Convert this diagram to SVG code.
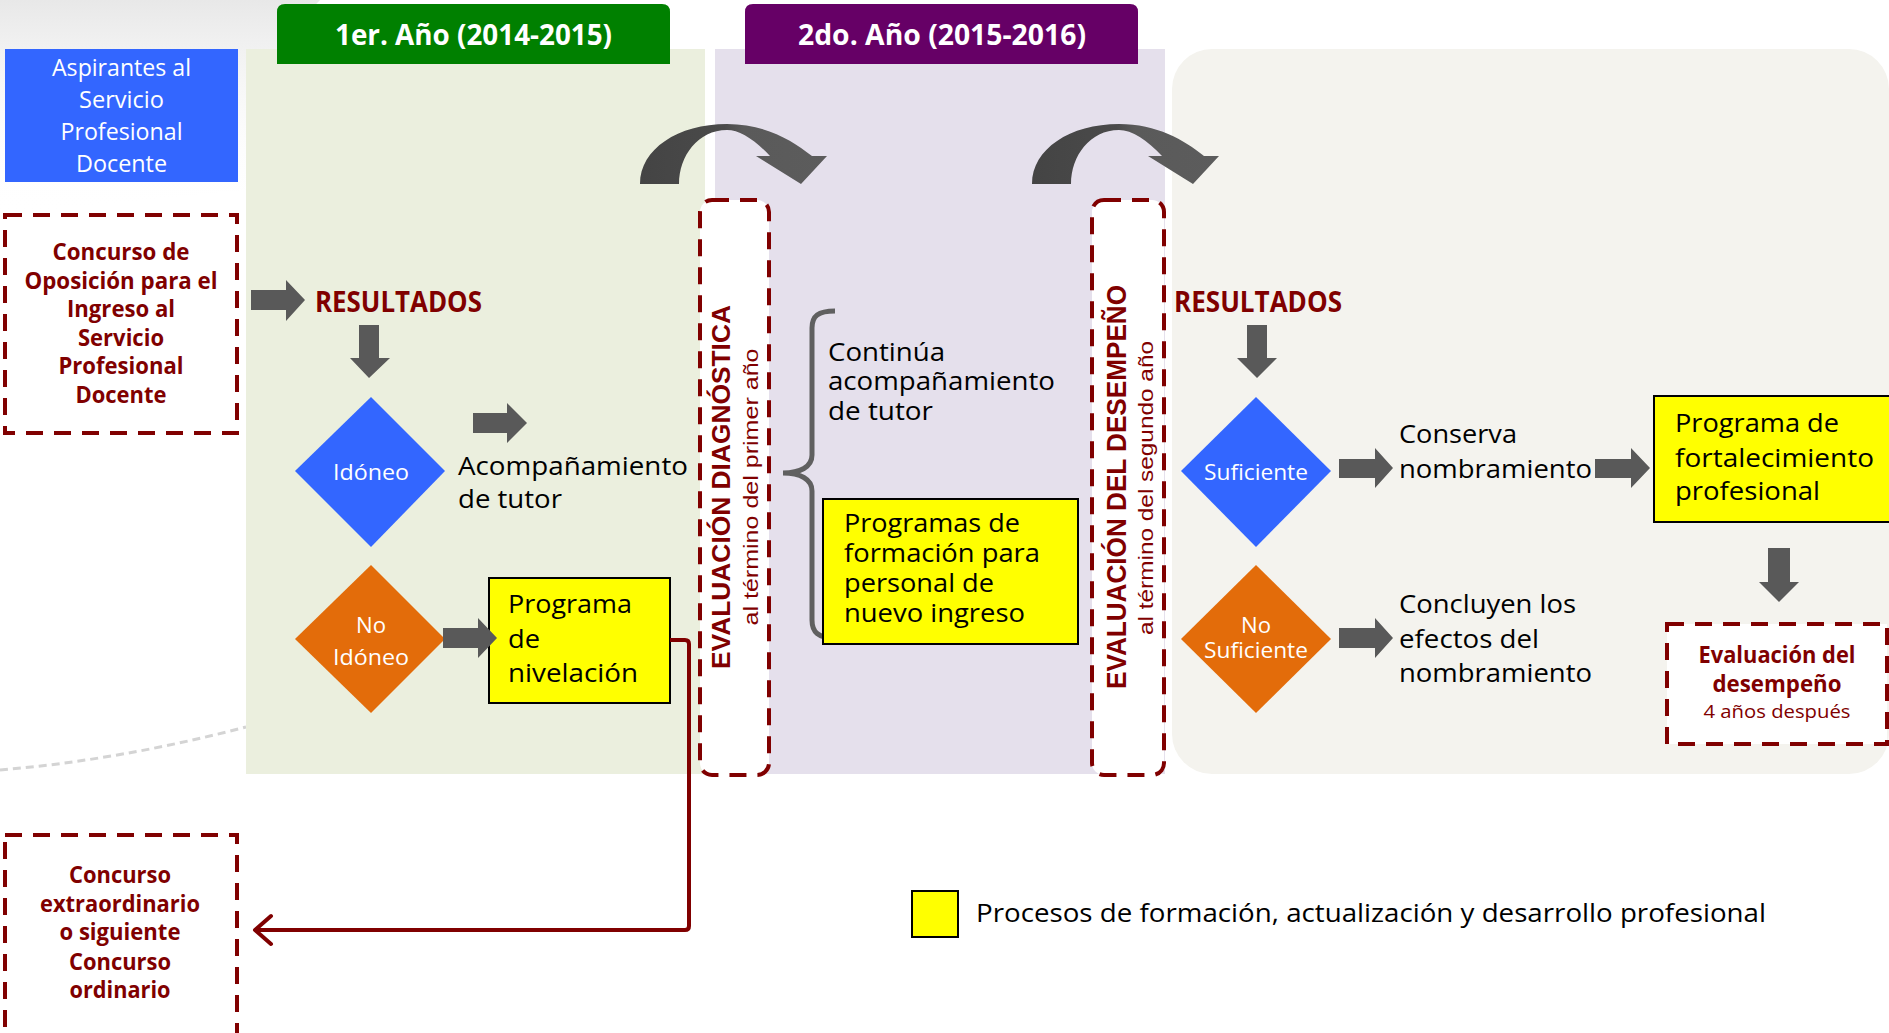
<svg xmlns="http://www.w3.org/2000/svg" width="1889" height="1033" viewBox="0 0 1889 1033">
<defs>
<style>
text{font-family:"Open Sans","Liberation Sans",sans-serif}
.t{font-size:26px;fill:#000}
.w{fill:#fff}
.dr{fill:#800000;font-weight:bold}
.hd{font-size:28px;font-weight:bold;fill:#fff}
.vt{font-family:"Liberation Sans","DejaVu Sans",sans-serif;fill:#800000}
.dash{fill:#fff;stroke:#800000;stroke-width:4;stroke-dasharray:17 11}
.yel{fill:#FFFF00;stroke:#000;stroke-width:2}
.ga{fill:#595959}
.blue{fill:#3366FF}
.org{fill:#E36C0A}
</style>
<linearGradient id="cg" x1="0" y1="0" x2="1" y2="0">
<stop offset="0" stop-color="#444"/>
<stop offset="0.45" stop-color="#4a4a4a"/>
<stop offset="0.55" stop-color="#5a5a5a"/>
<stop offset="1" stop-color="#5c5c5c"/>
</linearGradient>
<linearGradient id="sw" x1="0" y1="0" x2="0" y2="1">
<stop offset="0" stop-color="#e8e8e8"/>
<stop offset="1" stop-color="#ffffff" stop-opacity="0"/>
</linearGradient>
<path id="curved" d="M0,60 C0,25 38,0 87,0 C125,0 152,16 172,32 L187,32 L161,60 L116,32 L130,32 C115,16 100,6 87,6 C58,6 39,32 39,60 Z" fill="url(#cg)"/>
</defs>
<rect width="1889" height="1033" fill="#fff"/>
<g id="background">
<path d="M0,0 H320 C290,30 262,70 246,105 L246,190 C170,198 80,206 0,215 Z" fill="url(#sw)"/>
<path d="M0,770 Q120,760 246,727" fill="none" stroke="#d4d4d4" stroke-width="3" stroke-dasharray="8 5"/>
<rect x="246" y="49" width="459" height="725" fill="#EBEFDE"/>
<rect x="715" y="49" width="450" height="725" fill="#E5E0EC"/>
<rect x="1172" y="49" width="717" height="725" rx="40" fill="#F4F3EE"/>
</g>
<g id="header1">
<path d="M277,64 V12 Q277,4 285,4 H662 Q670,4 670,12 V64 Z" fill="#008000"/>
<text class="hd" x="473.5" y="45" text-anchor="middle" textLength="277" lengthAdjust="spacingAndGlyphs">1er. Año (2014-2015)</text>
</g>
<g id="header2">
<path d="M745,64 V12 Q745,4 753,4 H1130 Q1138,4 1138,12 V64 Z" fill="#660066"/>
<text class="hd" x="942" y="45" text-anchor="middle" textLength="288" lengthAdjust="spacingAndGlyphs">2do. Año (2015-2016)</text>
</g>
<g id="aspirantes">
<rect x="5" y="49" width="233" height="133" class="blue"/>
<g class="w" font-size="24" text-anchor="middle">
<text x="121.5" y="76" textLength="139" lengthAdjust="spacingAndGlyphs">Aspirantes al</text>
<text x="121.5" y="108" textLength="85" lengthAdjust="spacingAndGlyphs">Servicio</text>
<text x="121.5" y="140" textLength="122" lengthAdjust="spacingAndGlyphs">Profesional</text>
<text x="121.5" y="172" textLength="91" lengthAdjust="spacingAndGlyphs">Docente</text>
</g>
</g>
<g id="concurso">
<rect x="5" y="215" width="232" height="218" class="dash"/>
<g class="dr" font-size="23.5" text-anchor="middle">
<text x="121" y="260" textLength="137" lengthAdjust="spacingAndGlyphs">Concurso de</text>
<text x="121" y="288.6" textLength="193" lengthAdjust="spacingAndGlyphs">Oposición para el</text>
<text x="121" y="317.2" textLength="108" lengthAdjust="spacingAndGlyphs">Ingreso al</text>
<text x="121" y="345.8" textLength="86" lengthAdjust="spacingAndGlyphs">Servicio</text>
<text x="121" y="374.4" textLength="125" lengthAdjust="spacingAndGlyphs">Profesional</text>
<text x="121" y="403" textLength="91" lengthAdjust="spacingAndGlyphs">Docente</text>
</g>
</g>
<g id="resultados1">
<text class="dr" font-size="28" x="315" y="312" textLength="167" lengthAdjust="spacingAndGlyphs">RESULTADOS</text>
</g>
<g id="idoneo">
<polygon points="371,397 445,471 371,547 295,471" class="blue"/>
<text class="w" font-size="21" x="371" y="480" text-anchor="middle" textLength="76" lengthAdjust="spacingAndGlyphs">Idóneo</text>
</g>
<g id="noidoneo">
<polygon points="371,565 445,639 371,713 295,639" class="org"/>
<text class="w" font-size="21" x="371" y="633" text-anchor="middle" textLength="30" lengthAdjust="spacingAndGlyphs">No</text>
<text class="w" font-size="21" x="371" y="665" text-anchor="middle" textLength="76" lengthAdjust="spacingAndGlyphs">Idóneo</text>
</g>
<g id="acompanamiento">
<text class="t" x="458" y="475" textLength="230" lengthAdjust="spacingAndGlyphs">Acompañamiento</text>
<text class="t" x="458" y="508" textLength="104" lengthAdjust="spacingAndGlyphs">de tutor</text>
</g>
<g id="nivelacion">
<rect x="489" y="578" width="181" height="125" class="yel"/>
<text class="t" x="508" y="613" textLength="124" lengthAdjust="spacingAndGlyphs">Programa</text>
<text class="t" x="508" y="648" textLength="32" lengthAdjust="spacingAndGlyphs">de</text>
<text class="t" x="508" y="682" textLength="130" lengthAdjust="spacingAndGlyphs">nivelación</text>
</g>
<g id="eval-diagnostica">
<rect x="700" y="200" width="69" height="575" rx="12" class="dash"/>
<text class="vt" font-size="26" font-weight="bold" x="730" y="487" text-anchor="middle" transform="rotate(-90 730 487)" textLength="364" lengthAdjust="spacingAndGlyphs">EVALUACIÓN DIAGNÓSTICA</text>
<text class="vt" font-size="20" x="758" y="487" text-anchor="middle" transform="rotate(-90 758 487)" textLength="277" lengthAdjust="spacingAndGlyphs">al término del primer año</text>
</g>
<g id="continua">
<path d="M835,311 C818,311 812,316 812,328 V455 C812,467 800,473 783,473 C800,473 812,479 812,491 V620 C812,632 818,638 835,638" fill="none" stroke="#606060" stroke-width="5"/>
<text class="t" x="828" y="361" textLength="117" lengthAdjust="spacingAndGlyphs">Continúa</text>
<text class="t" x="828" y="390" textLength="227" lengthAdjust="spacingAndGlyphs">acompañamiento</text>
<text class="t" x="828" y="420" textLength="105" lengthAdjust="spacingAndGlyphs">de tutor</text>
</g>
<g id="formacion">
<rect x="823" y="499" width="255" height="145" class="yel"/>
<text class="t" x="844" y="532" textLength="176" lengthAdjust="spacingAndGlyphs">Programas de</text>
<text class="t" x="844" y="562" textLength="196" lengthAdjust="spacingAndGlyphs">formación para</text>
<text class="t" x="844" y="592" textLength="150" lengthAdjust="spacingAndGlyphs">personal de</text>
<text class="t" x="844" y="622" textLength="181" lengthAdjust="spacingAndGlyphs">nuevo ingreso</text>
</g>
<g id="eval-desempeno">
<rect x="1092" y="200" width="72" height="575" rx="12" class="dash"/>
<text class="vt" font-size="27" font-weight="bold" x="1126" y="487" text-anchor="middle" transform="rotate(-90 1126 487)" textLength="404" lengthAdjust="spacingAndGlyphs">EVALUACIÓN DEL DESEMPEÑO</text>
<text class="vt" font-size="20" x="1153" y="488" text-anchor="middle" transform="rotate(-90 1153 488)" textLength="294" lengthAdjust="spacingAndGlyphs">al término del segundo año</text>
</g>
<g id="resultados2">
<text class="dr" font-size="28" x="1174" y="312" textLength="168" lengthAdjust="spacingAndGlyphs">RESULTADOS</text>
</g>
<g id="suficiente">
<polygon points="1256,397 1331,471 1256,547 1181,471" class="blue"/>
<text class="w" font-size="21" x="1256" y="480" text-anchor="middle" textLength="104" lengthAdjust="spacingAndGlyphs">Suficiente</text>
</g>
<g id="nosuficiente">
<polygon points="1256,565 1331,639 1256,713 1181,639" class="org"/>
<text class="w" font-size="21" x="1256" y="633" text-anchor="middle" textLength="30" lengthAdjust="spacingAndGlyphs">No</text>
<text class="w" font-size="21" x="1256" y="658" text-anchor="middle" textLength="104" lengthAdjust="spacingAndGlyphs">Suficiente</text>
</g>
<g id="conserva">
<text class="t" x="1399" y="443" textLength="118" lengthAdjust="spacingAndGlyphs">Conserva</text>
<text class="t" x="1399" y="478" textLength="193" lengthAdjust="spacingAndGlyphs">nombramiento</text>
</g>
<g id="concluyen">
<text class="t" x="1399" y="613" textLength="177" lengthAdjust="spacingAndGlyphs">Concluyen los</text>
<text class="t" x="1399" y="648" textLength="140" lengthAdjust="spacingAndGlyphs">efectos del</text>
<text class="t" x="1399" y="682" textLength="193" lengthAdjust="spacingAndGlyphs">nombramiento</text>
</g>
<g id="fortalecimiento">
<rect x="1654" y="396" width="245" height="126" class="yel"/>
<text class="t" x="1675" y="432" textLength="164" lengthAdjust="spacingAndGlyphs">Programa de</text>
<text class="t" x="1675" y="467" textLength="199" lengthAdjust="spacingAndGlyphs">fortalecimiento</text>
<text class="t" x="1675" y="500" textLength="145" lengthAdjust="spacingAndGlyphs">profesional</text>
</g>
<g id="eval-4anos">
<rect x="1667" y="624" width="220" height="120" class="dash"/>
<text class="dr" font-size="23" x="1777" y="663" text-anchor="middle" textLength="157" lengthAdjust="spacingAndGlyphs">Evaluación del</text>
<text class="dr" font-size="23" x="1777" y="692" text-anchor="middle" textLength="129" lengthAdjust="spacingAndGlyphs">desempeño</text>
<text font-size="19" fill="#800000" x="1777" y="718" text-anchor="middle" textLength="147" lengthAdjust="spacingAndGlyphs">4 años después</text>
</g>
<g id="extraordinario">
<rect x="5" y="835" width="232" height="200" class="dash"/>
<g class="dr" font-size="23.5" text-anchor="middle">
<text x="120" y="883" textLength="102" lengthAdjust="spacingAndGlyphs">Concurso</text>
<text x="120" y="912" textLength="160" lengthAdjust="spacingAndGlyphs">extraordinario</text>
<text x="120" y="940" textLength="121" lengthAdjust="spacingAndGlyphs">o siguiente</text>
<text x="120" y="970" textLength="102" lengthAdjust="spacingAndGlyphs">Concurso</text>
<text x="120" y="998" textLength="101" lengthAdjust="spacingAndGlyphs">ordinario</text>
</g>
</g>
<g id="legend">
<rect x="912" y="891" width="46" height="46" class="yel"/>
<text class="t" x="976" y="922" textLength="790" lengthAdjust="spacingAndGlyphs">Procesos de formación, actualización y desarrollo profesional</text>
</g>
<g id="connectors">
<use href="#curved" transform="translate(640,124)"/>
<use href="#curved" transform="translate(1032,124)"/>
<path class="ga" d="M251,290 H286 V280 L305,300 L286,321 V310 H251 Z"/>
<path class="ga" d="M359,325 H379 V358 H390 L369,378 L350,358 H359 Z"/>
<path class="ga" d="M473,413 H507 V403 L527,423 L507,443 V433 H473 Z"/>
<path class="ga" d="M443,628 H478 V618 L497,638 L478,658 V648 H443 Z"/>
<path class="ga" d="M1247,325 H1267 V358 H1277 L1257,378 L1237,358 H1247 Z"/>
<path class="ga" d="M1339,459 H1375 V448 L1393,468 L1375,488 V478 H1339 Z"/>
<path class="ga" d="M1339,628 H1375 V618 L1393,638 L1375,658 V648 H1339 Z"/>
<path class="ga" d="M1595,459 H1631 V448 L1650,468 L1631,488 V478 H1595 Z"/>
<path class="ga" d="M1768,548 H1790 V582 H1799 L1779,602 L1759,582 H1768 Z"/>
<path d="M670,640 H685 Q689,640 689,644 V926 Q689,930 685,930 H256" fill="none" stroke="#800000" stroke-width="4"/>
<polyline points="271,916 255,930 271,944" fill="none" stroke="#800000" stroke-width="4" stroke-linecap="round" stroke-linejoin="round"/>
</g>
</svg>
